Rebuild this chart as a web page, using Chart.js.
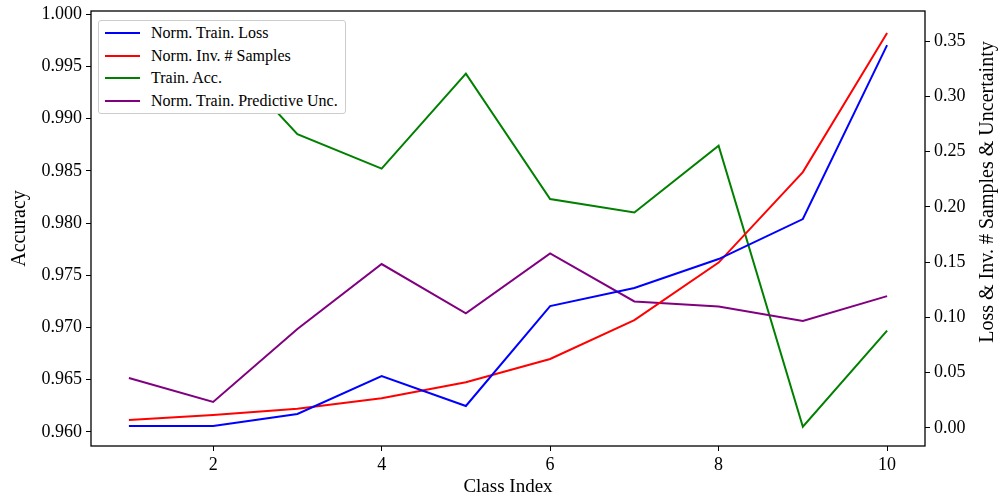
<!DOCTYPE html>
<html>
<head>
<meta charset="utf-8">
<script src="https://cdn.jsdelivr.net/npm/chart.js@4"></script>
<style>
    body { margin: 0; background: #fff; }
    #wrap { position: relative; width: 1005px; height: 502px; }
    #legend {
        position: absolute; left: 98px; top: 20px; width: 246px; height: 91px;
        background: #fff; border: 1px solid #ccc; border-radius: 3px;
        font-family: "Liberation Serif", serif; font-size: 16px; color: #000;
        padding-top: 1px; box-sizing: content-box;
    }
    .row { height: 22.5px; display: flex; align-items: center; }
    .swatch { width: 35px; height: 2px; margin-left: 6px; margin-right: 11px; }
</style>
</head>
<body>
<div id="wrap">
    <canvas id="chart" width="1005" height="502"></canvas>
    <div id="legend"></div>
</div>
<script>
// data
const classIdx = [1, 2, 3, 4, 5, 6, 7, 8, 9, 10];
const normLoss = [0.0018, 0.0018, 0.0127, 0.047, 0.0199, 0.1103, 0.1266, 0.1528, 0.189, 0.3463];
const normInvSamples = [0.0072, 0.0118, 0.0175, 0.0268, 0.0413, 0.0624, 0.0976, 0.1496, 0.2315, 0.3573];
const trainAcc = [0.9985, 0.9972, 0.9885, 0.9852, 0.9943, 0.9823, 0.9810, 0.9874, 0.9605, 0.9697];
const normUnc = [0.0452, 0.0235, 0.0895, 0.1483, 0.1037, 0.158, 0.1145, 0.1098, 0.0967, 0.1193];

const xTicks = [2, 4, 6, 8, 10];
const accTicks = [0.960, 0.965, 0.970, 0.975, 0.980, 0.985, 0.990, 0.995, 1.000];
const rightTicks = [0.00, 0.05, 0.10, 0.15, 0.20, 0.25, 0.30, 0.35];

const series = [
    { label: "Norm. Train. Loss", data: normLoss, color: "#0000ff", axis: "y1" },
    { label: "Norm. Inv. # Samples", data: normInvSamples, color: "#ff0000", axis: "y1" },
    { label: "Train. Acc.", data: trainAcc, color: "#008000", axis: "y" },
    { label: "Norm. Train. Predictive Unc.", data: normUnc, color: "#800080", axis: "y1" },
];

const FONT = "'Liberation Serif', 'Times New Roman', serif";
const RIGHT_TITLE = "Loss & Inv. # Samples & Uncertainty";

// box around plot area + right axis title (reads bottom-to-top like matplotlib)
const framePlugin = {
    id: "frame",
    afterDatasetsDraw(chart) {
        const a = chart.chartArea;
        const c = chart.ctx;
        c.save();
        c.strokeStyle = "#000";
        c.lineWidth = 1.3;
        c.strokeRect(a.left, a.top, a.right - a.left, a.bottom - a.top);
        c.restore();
    },
    afterDraw(chart) {
        const c = chart.ctx;
        c.save();
        c.translate(988, 192);
        c.rotate(-Math.PI / 2);
        c.fillStyle = "#000";
        c.font = "20px " + FONT;
        c.textAlign = "center";
        c.textBaseline = "middle";
        c.fillText(RIGHT_TITLE, 0, 0);
        c.restore();
    }
};

function fixedTicks(list) {
    return scale => { scale.ticks = list.map(v => ({ value: v })); };
}

// fixed axis width, and let the top tick label hang over the margin
function fitY(w) {
    return s => { s.width = w; s.paddingTop = 0; s.paddingBottom = 0; };
}

const tickGrid = { drawOnChartArea: false, drawTicks: true, tickLength: 5, color: "#000", lineWidth: 1 };

new Chart(document.getElementById("chart").getContext("2d"), {
    type: "line",
    data: {
        datasets: series.map((s, i) => ({
            label: s.label,
            data: classIdx.map((x, j) => ({ x: x, y: s.data[j] })),
            borderColor: s.color,
            backgroundColor: s.color,
            borderWidth: 2,
            pointRadius: 0,
            tension: 0,
            yAxisID: s.axis,
            order: s.axis === "y" ? 5 : 1
        }))
    },
    options: {
        responsive: false,
        animation: false,
        layout: { padding: { top: 11, left: 0, right: 0, bottom: 0 } },
        plugins: { legend: { display: false }, tooltip: { enabled: false } },
        scales: {
            x: {
                type: "linear", min: 0.55, max: 10.45,
                afterBuildTicks: fixedTicks(xTicks),
                afterFit: s => { s.height = 56; },
                grid: tickGrid, border: { display: false },
                ticks: { color: "#000", font: { family: FONT, size: 18 }, padding: 3 },
                title: { display: true, text: "Class Index", color: "#000", font: { family: FONT, size: 19 }, padding: { top: 0 } }
            },
            y: {
                position: "left", min: 0.95866, max: 1.00029,
                afterBuildTicks: fixedTicks(accTicks),
                afterFit: fitY(91),
                grid: tickGrid, border: { display: false },
                ticks: { color: "#000", font: { family: FONT, size: 18 }, padding: 4, callback: v => v.toFixed(3) },
                title: { display: true, text: "Accuracy", color: "#000", font: { family: FONT, size: 20 }, padding: { top: 8, bottom: 0 } }
            },
            y1: {
                position: "right", min: -0.0163, max: 0.3772,
                afterBuildTicks: fixedTicks(rightTicks),
                afterFit: fitY(80),
                grid: tickGrid, border: { display: false },
                ticks: { color: "#000", font: { family: FONT, size: 18 }, padding: 4, callback: v => v.toFixed(2) },
                title: { display: false }
            }
        }
    },
    plugins: [framePlugin]
});

// legend box drawn over the plot, like matplotlib's upper-left legend
const legend = document.getElementById("legend");
series.forEach(s => {
    const row = document.createElement("div");
    row.className = "row";
    const sw = document.createElement("div");
    sw.className = "swatch";
    sw.style.background = s.color;
    const txt = document.createElement("span");
    txt.textContent = s.label;
    row.appendChild(sw);
    row.appendChild(txt);
    legend.appendChild(row);
});
</script>
</body>
</html>
